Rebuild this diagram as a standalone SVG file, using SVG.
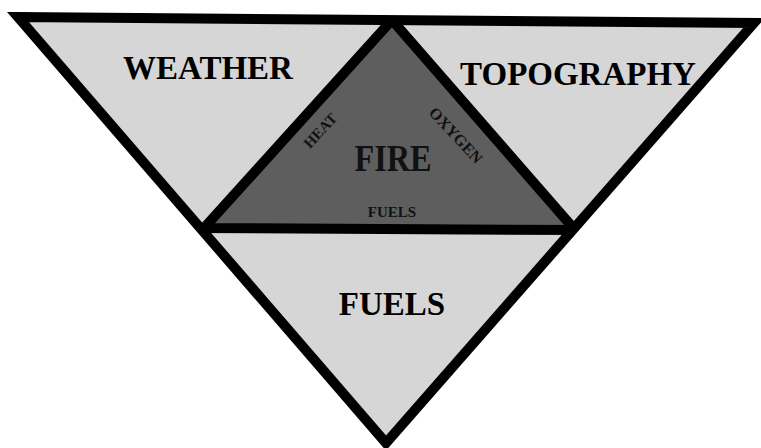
<svg xmlns="http://www.w3.org/2000/svg" width="761" height="448" viewBox="0 0 761 448">
<style>
.light{fill:#d6d6d6;stroke:none}
.dark{fill:#5e5e5e;stroke:none}
.edge{fill:none;stroke:#000;stroke-width:10;stroke-linejoin:miter;stroke-miterlimit:10}
.big{font-family:"Liberation Serif",serif;font-weight:bold;font-size:33px;fill:#000;text-anchor:middle}
.small{font-family:"Liberation Serif",serif;font-weight:bold;fill:#111;text-anchor:middle}
</style>
<defs>
<clipPath id="outerClip"><polygon points="18,17 754,23 386,443"/></clipPath>
</defs>
<rect width="761" height="448" fill="#fff"/>
<g id="weather">
<polygon class="light" points="18,17 392,20 204,228"/>
<text class="big" x="208" y="79">WEATHER</text>
</g>
<g id="topography">
<polygon class="light" points="392,20 754,23 575,230"/>
<text class="big" x="578" y="85">TOPOGRAPHY</text>
</g>
<g id="fuels">
<polygon class="light" points="204,228 575,230 386,443"/>
<text class="big" x="392" y="315">FUELS</text>
</g>
<g id="fire">
<polygon class="dark" points="392,20 575,230 204,228"/>
</g>
<g id="connectors">
<polygon class="edge" clip-path="url(#outerClip)" points="392,20 575,230 204,228"/>
<polygon class="edge" points="18,17 754,23 386,443"/>
</g>
<g id="fire-labels">
<text class="small" x="393" y="171" font-size="37" textLength="77" lengthAdjust="spacingAndGlyphs">FIRE</text>
<text class="small" x="392" y="217" font-size="15">FUELS</text>
<text class="small" font-size="15" transform="translate(324,134) rotate(-47)">HEAT</text>
<text class="small" font-size="16" transform="translate(452,139) rotate(47)">OXYGEN</text>
</g>
</svg>
